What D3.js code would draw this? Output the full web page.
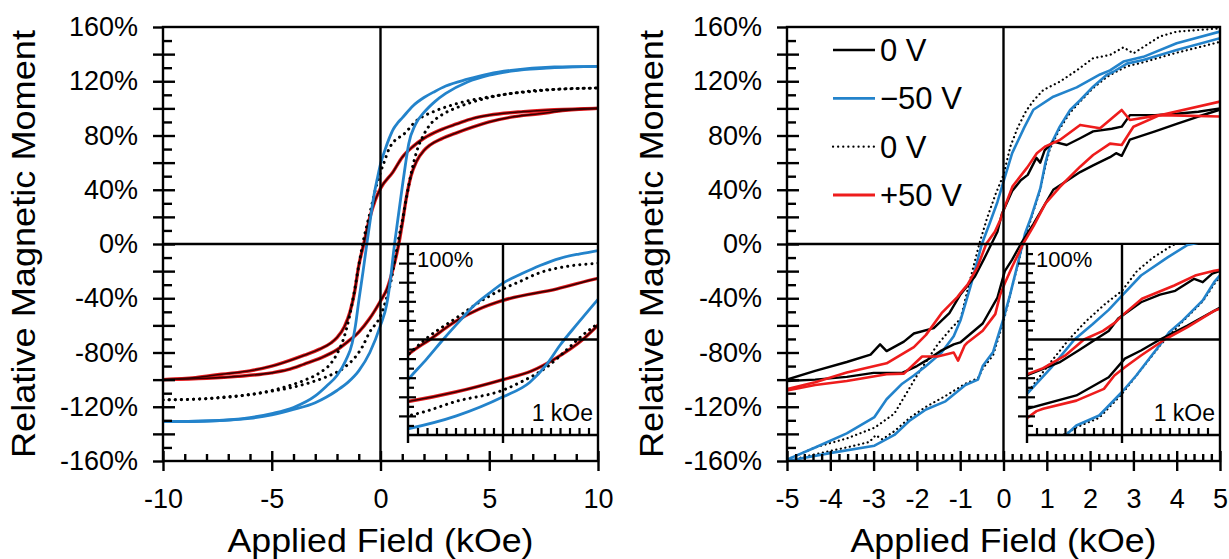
<!DOCTYPE html>
<html><head><meta charset="utf-8">
<script src="https://cdn.jsdelivr.net/npm/d3@7"></script>
<style>
body{margin:0;background:#fff}
svg{display:block}
text{font-family:"Liberation Sans",Arial,Helvetica,sans-serif;fill:#000}
</style>
</head><body>
<svg id="chart" width="1229" height="559"></svg>
<script>
// ---------------- DATA (field in kOe, moment in %) ----------------
const yTickValues = [-160,-120,-80,-40,0,40,80,120,160];
const leftXTicks = [-10,-5,0,5,10];
const rightXTicks = [-5,-4,-3,-2,-1,0,1,2,3,4,5];
const legendLabels = ["0 V","\u221250 V","0 V","+50 V"];
const insetTopLabel = "100%";
const insetFieldLabel = "1 kOe";

// Left panel (smooth loops) — descending (upper) and ascending (lower) branches
const leftBlueDesc = [[-10,-131],[-8,-130.5],[-6,-128],[-5,-125],[-4,-120.5],[-3,-112],[-2.5,-105],[-2,-97],[-1.6,-86],[-1.3,-73],[-1.15,-60],[-1,-42],[-0.8,-20],[-0.63,0],[-0.45,20],[-0.31,35],[-0.15,48],[0,59],[0.2,69],[0.39,77.5],[0.6,85],[0.8,89.5],[1,93],[1.5,102],[2,108],[2.5,112.5],[3,116.5],[4,121.5],[5,125.5],[6,128],[8,130.5],[10,131]];
const leftBlueAsc = [[-10,-131],[-8,-130.5],[-6,-128.5],[-5,-126],[-4,-122],[-3,-117],[-2.5,-113],[-2,-108],[-1.5,-102],[-1,-93.5],[-0.49,-80],[0,-60],[0.28,-45],[0.46,-26],[0.6,-6],[0.78,16],[1,42],[1.15,59],[1.3,74],[1.6,88],[2,97],[2.5,105],[3,111],[4,119.5],[5,124.5],[6,127.5],[8,130],[10,131]];
const leftDotDesc = [[-10,-115],[-8,-114],[-7,-112.5],[-6,-111],[-5,-108],[-4.2,-104.5],[-3.5,-100.5],[-2.8,-95],[-2.28,-88],[-2,-81],[-1.66,-68],[-1.45,-55],[-1.2,-35],[-1,-16],[-0.82,0],[-0.5,22],[-0.17,44],[0,53],[0.16,60],[0.39,70],[0.7,77],[1,80],[1.66,91],[2.5,98],[3.2,102],[4,105.5],[5,108.5],[6,111],[7,113],[8,114],[10,115]];
const leftDotAsc = [[-10,-115],[-8,-114],[-7,-113],[-6,-111],[-5,-108.5],[-4,-105.5],[-3.2,-102],[-2.5,-98],[-1.66,-91],[-1,-80],[-0.84,-76],[-0.5,-65],[0,-53],[0.2,-44],[0.46,-29],[0.7,-8],[0.82,3],[1,17],[1.2,35],[1.45,55],[1.66,68],[2,81],[2.28,88],[2.8,95],[3.5,100.5],[4.2,104.5],[5,108],[6,111],[7,112.5],[8,114],[10,115]];
const leftRedDesc = [[-10,-100],[-8.5,-98.5],[-7.3,-96],[-6,-93.5],[-5,-90],[-4.2,-86],[-3.5,-82],[-2.8,-77.5],[-2.28,-73],[-2,-69],[-1.66,-61],[-1.4,-50],[-1.2,-36],[-1,-16],[-0.77,0],[-0.5,19],[-0.25,32],[0,41],[0.57,53],[1,64],[1.5,72],[2,78],[2.74,84],[3.5,88.5],[4.27,92.7],[5,95],[6.57,97.6],[8,99],[10,100]];
const leftRedAsc = [[-10,-100],[-8,-99],[-6.57,-97.6],[-5,-95],[-4.27,-92.7],[-3.5,-88.5],[-2.74,-84],[-2,-78],[-1.5,-72],[-1,-65],[-0.5,-55],[0,-42],[0.3,-33],[0.55,-20],[0.84,0],[1,15],[1.2,35],[1.4,50],[1.66,61],[2,69],[2.28,73],[2.8,77.5],[3.5,82],[4.2,86],[5,90],[6,93.5],[7.3,96],[8.5,98.5],[10,100]];
const leftBlackDesc = leftRedDesc.map(d => [d[0], d[1]]);
const leftBlackAsc = leftRedAsc.map(d => [d[0], d[1]]);

// Right panel (measured, noisy loops)
const rightBlackDesc = [[-5,-100],[-4.35,-93.5],[-3.62,-87],[-3.07,-81.6],[-2.85,-74],[-2.7,-79],[-2.3,-72],[-2.07,-66],[-1.61,-62],[-1.25,-51],[-0.99,-37],[-0.66,-24],[-0.45,-11],[-0.28,0],[-0.14,9],[-0.04,22],[0.2,39],[0.4,47],[0.56,51],[0.76,63.5],[0.85,60],[0.95,69],[1.15,75.5],[1.46,73],[1.77,78],[2.07,83],[2.5,85],[2.73,86.5],[2.92,95],[3.5,95],[4,96],[4.5,97.5],[5,100]];
const rightBlackAsc = [[-5,-101],[-4.35,-100],[-3.62,-98],[-3,-95],[-2.34,-95],[-2,-90],[-1.79,-86],[-1.46,-79],[-1.15,-74],[-1,-72.6],[-0.48,-58.6],[-0.14,-39.5],[0.03,-20],[0.2,-11.5],[0.4,0],[0.69,14.7],[0.97,30],[1.15,40],[1.77,53],[2.07,58],[2.46,64],[2.6,67],[2.73,65],[2.92,77],[3.5,83],[4,88.5],[4.5,94],[5,99]];
const rightBlueDesc = [[-5,-159],[-4.35,-150],[-3.62,-139.6],[-2.98,-127.6],[-2.7,-114.5],[-2.34,-103],[-2.07,-97],[-1.79,-90],[-1.43,-80],[-1.15,-68],[-0.99,-56],[-0.75,-30],[-0.5,0],[-0.31,16],[-0.14,31],[0,46],[0.2,67],[0.48,86],[0.69,99],[1.15,108.6],[1.69,115.5],[2.23,125],[2.46,128],[2.77,134.5],[3.23,138],[4,148],[5,156.6]];
const rightBlueAsc = [[-5,-160],[-3.98,-154],[-2.98,-148.7],[-2.52,-140.8],[-2.16,-130],[-1.79,-122],[-1.34,-116],[-0.88,-104],[-0.59,-100],[-0.48,-90],[-0.24,-79.6],[0,-55],[0.15,-37.7],[0.42,-2.8],[0.5,8],[0.64,20],[0.85,41],[0.97,60],[1.07,71.8],[1.3,86.5],[1.54,98.8],[1.77,106],[2.07,116],[2.38,124.6],[2.54,127],[2.85,133],[3.23,135.7],[4,143],[5,151.7]];
const rightDotDesc = [[-5,-159],[-4.35,-150],[-3.62,-143.4],[-2.98,-135.5],[-2.52,-125],[-1.98,-96],[-1.52,-74],[-1.2,-62],[-0.99,-55],[-0.8,-30],[-0.56,0],[-0.38,19],[-0.18,37],[0,51],[0.16,72],[0.33,86],[0.52,98],[0.7,106],[0.92,113.6],[1.3,119.7],[1.69,128],[2.07,137],[2.46,139.4],[2.77,145],[3,140.6],[3.07,142],[3.61,153],[4,156.6],[5,159]];
const rightDotAsc = [[-5,-160],[-4.35,-155],[-3.62,-150],[-3.1,-146],[-2.95,-141],[-2.8,-144],[-2.52,-138],[-2.16,-128],[-1.79,-120],[-1.34,-112],[-0.88,-103],[-0.59,-99],[-0.48,-92],[-0.24,-82],[0,-57],[0.15,-38],[0.42,-4],[0.64,19],[0.85,40],[0.97,58],[1.07,70],[1.3,85],[1.54,97],[1.77,105],[2.07,115],[2.38,123],[2.54,126],[2.85,131],[3.23,134],[4,141],[5,149]];
const rightRedDesc = [[-5,-107],[-4.35,-102],[-3.62,-94.8],[-2.7,-88],[-2.07,-76],[-1.79,-67],[-1.43,-51],[-1.06,-39],[-0.99,-36],[-0.83,-30],[-0.6,-17],[-0.4,0],[-0.2,9],[-0.07,18],[0,25],[0.21,42.6],[0.55,56.5],[0.77,66.9],[0.97,72],[1.3,76.7],[1.77,87.8],[2.23,85.3],[2.73,98.8],[2.92,91.4],[3.61,95],[5,94]];
const rightRedAsc = [[-5,-108],[-4.35,-104],[-3.62,-101],[-2.7,-96],[-2.3,-95.6],[-1.88,-83],[-1.52,-83],[-1.15,-80],[-1.05,-86],[-0.9,-75],[-0.83,-72.6],[-0.48,-64],[-0.19,-51.7],[-0.08,-37.7],[0.03,-29],[0.2,-16.8],[0.45,0],[0.69,13],[0.97,30],[1.3,42],[1.77,57],[2.07,65.6],[2.46,74],[2.73,73],[3.0,86.5],[3.61,95],[5,105]];

// ---------------- STYLE ----------------
const BLUE = "#2383cb", RED = "#ee1c1c", BLACK = "#000", DARKRED = "#e3191c";
const svg = d3.select("#chart");
const defs = svg.append("defs");
const Y_TOP = 27, Y_BOT = 461;

function panel(cfg) {
  const x = d3.scaleLinear().domain(cfg.xDomain).range([cfg.left, cfg.right]);
  const y = d3.scaleLinear().domain([-160, 160]).range([Y_BOT, Y_TOP]);
  const g = svg.append("g");

  const clipMain = cfg.id + "-main";
  defs.append("clipPath").attr("id", clipMain).append("rect")
    .attr("x", cfg.left).attr("y", Y_TOP).attr("width", cfg.right - cfg.left).attr("height", Y_BOT - Y_TOP);

  const line = (xs, ys, curve) => d3.line().x(d => xs(d[0])).y(d => ys(d[1])).curve(curve);

  function drawSeries(container, xs, ys, series) {
    series.forEach(s => {
      [s.desc, s.asc].forEach(arr => {
        container.append("path").datum(arr)
          .attr("d", line(xs, ys, cfg.curve))
          .attr("fill", "none").attr("stroke", s.color).attr("stroke-width", s.width)
          .attr("stroke-dasharray", s.dash || null)
          .attr("stroke-linecap", s.dash ? "round" : "butt")
          .attr("stroke-linejoin", "round");
      });
    });
  }

  const mainG = g.append("g").attr("clip-path", `url(#${clipMain})`);
  drawSeries(mainG, x, y, cfg.series);

  // zero lines
  g.append("line").attr("x1", x(0)).attr("x2", x(0)).attr("y1", Y_TOP).attr("y2", Y_BOT).attr("stroke", "#000").attr("stroke-width", 2.4);
  g.append("line").attr("x1", cfg.left).attr("x2", cfg.right).attr("y1", y(0)).attr("y2", y(0)).attr("stroke", "#000").attr("stroke-width", 2.4);

  // ---- inset ----
  const iTop = y(0), iBot = 435;
  const xi = d3.scaleLinear().domain([-1, 1]).range([cfg.insetLeft, cfg.insetRight]);
  const yi = d3.scaleLinear().domain([-100, 100]).range([iBot, iTop]);
  g.append("rect").attr("x", cfg.insetLeft).attr("y", iTop + 1).attr("width", cfg.right - cfg.insetLeft).attr("height", iBot - iTop - 1).attr("fill", "#fff");
  const clipIn = cfg.id + "-inset";
  defs.append("clipPath").attr("id", clipIn).append("rect")
    .attr("x", cfg.insetLeft).attr("y", iTop).attr("width", cfg.right - cfg.insetLeft).attr("height", iBot - iTop);
  const inG = g.append("g").attr("clip-path", `url(#${clipIn})`);
  drawSeries(inG, xi, yi, cfg.series);

  // inset frame lines
  g.append("line").attr("x1", xi(-1)).attr("x2", xi(-1)).attr("y1", iTop).attr("y2", iBot + 8).attr("stroke", "#000").attr("stroke-width", 2.4);
  g.append("line").attr("x1", xi(0)).attr("x2", xi(0)).attr("y1", iTop).attr("y2", iBot + 8).attr("stroke", "#000").attr("stroke-width", 2.4);
  g.append("line").attr("x1", cfg.insetLeft).attr("x2", cfg.right).attr("y1", yi(0)).attr("y2", yi(0)).attr("stroke", "#000").attr("stroke-width", 2.4);
  g.append("line").attr("x1", cfg.insetLeft).attr("x2", cfg.right).attr("y1", iBot).attr("y2", iBot).attr("stroke", "#000").attr("stroke-width", 2.4);

  // inset ticks via axes
  const iy1 = g.append("g").attr("transform", `translate(${xi(-1)},0)`)
    .call(d3.axisLeft(yi).tickValues(d3.range(-80, 81, 20).filter(v => v !== 0)).tickSize(9).tickFormat(""));
  const iy2 = g.append("g").attr("transform", `translate(${xi(-1)},0)`)
    .call(d3.axisRight(yi).tickValues(d3.range(-80, 81, 20).filter(v => v !== 0)).tickSize(8).tickFormat(""));
  const iy3 = g.append("g").attr("transform", `translate(${xi(-1)},0)`)
    .call(d3.axisRight(yi).tickValues(d3.range(-90, 91, 20)).tickSize(6).tickFormat(""));
  const ix = g.append("g").attr("transform", `translate(0,${iBot})`)
    .call(d3.axisTop(xi).tickValues(d3.range(-9, 10).filter(v => v !== 0).map(v => v / 10)).tickSize(7).tickFormat(""));
  [iy1, iy2, iy3, ix].forEach(a => { a.select(".domain").remove(); a.selectAll("line").attr("stroke-width", 2.2); });

  g.append("text").attr("x", xi(-1) + 9).attr("y", iTop + 23).attr("font-size", 22).text(insetTopLabel);
  g.append("text").attr("x", cfg.right - 5).attr("y", iBot - 14).attr("text-anchor", "end").attr("font-size", 23).text(insetFieldLabel);

  // ---- frame ----
  g.append("rect").attr("x", cfg.left).attr("y", Y_TOP).attr("width", cfg.right - cfg.left).attr("height", Y_BOT - Y_TOP)
    .attr("fill", "none").attr("stroke", "#000").attr("stroke-width", 2.4);

  // ---- main axes ----
  const ya = g.append("g").attr("transform", `translate(${cfg.left},0)`)
    .call(d3.axisLeft(y).tickValues(d3.range(-160, 161, 20)).tickSize(10).tickPadding(15)
      .tickFormat(d => yTickValues.includes(d) ? d + "%" : ""));
  ya.selectAll("text").attr("font-size", 27).attr("font-family", '"Liberation Sans",Arial,sans-serif').attr("fill", "#000");
  const ya2 = g.append("g").attr("transform", `translate(${cfg.left},0)`)
    .call(d3.axisRight(y).tickValues(d3.range(-140, 141, 20)).tickSize(12).tickFormat(""));
  const ya3 = g.append("g").attr("transform", `translate(${cfg.left},0)`)
    .call(d3.axisRight(y).tickValues(d3.range(-150, 151, 20)).tickSize(9).tickFormat(""));

  const xa = g.append("g").attr("transform", `translate(0,${Y_BOT})`)
    .call(d3.axisBottom(x).tickValues(cfg.xTicks).tickSize(10).tickPadding(18).tickFormat(d => String(d)));
  xa.selectAll("text").attr("font-size", 27).attr("font-family", '"Liberation Sans",Arial,sans-serif').attr("fill", "#000");
  const xa2 = g.append("g").attr("transform", `translate(0,${Y_BOT})`)
    .call(d3.axisTop(x).tickValues(cfg.xTicks).tickSize(10).tickFormat(""));
  const xa3 = g.append("g").attr("transform", `translate(0,${Y_BOT})`)
    .call(d3.axisTop(x).tickValues(cfg.xMinor).tickSize(7).tickFormat(""));
  [ya, ya2, ya3, xa, xa2, xa3].forEach(a => { a.select(".domain").remove(); a.selectAll("line").attr("stroke", "#000").attr("stroke-width", 2.4); });

  // titles
  g.append("text").attr("x", x(0)).attr("y", 552).attr("text-anchor", "middle").attr("font-size", 34)
    .attr("textLength", 306).attr("lengthAdjust", "spacingAndGlyphs").text("Applied Field (kOe)");
  g.append("text").attr("transform", `translate(${cfg.titleX},${(Y_TOP + Y_BOT) / 2}) rotate(-90)`)
    .attr("text-anchor", "middle").attr("font-size", 33)
    .attr("textLength", 428).attr("lengthAdjust", "spacingAndGlyphs").text("Relative Magnetic Moment");
  return {x, y};
}

panel({
  id: "L", left: 163, right: 598, xDomain: [-10, 10], xTicks: leftXTicks,
  xMinor: d3.range(-9, 10).filter(v => v % 5 !== 0),
  insetLeft: 408, insetRight: 598, titleX: 35, curve: d3.curveMonotoneX,
  series: [
    {desc: leftRedDesc, asc: leftRedAsc, color: DARKRED, width: 3.4},
    {desc: leftBlackDesc, asc: leftBlackAsc, color: "#3a0000", width: 1.6},
    {desc: leftDotDesc, asc: leftDotAsc, color: BLACK, width: 3, dash: "0.1 6"},
    {desc: leftBlueDesc, asc: leftBlueAsc, color: BLUE, width: 2.8}
  ]
});

panel({
  id: "R", left: 787, right: 1220, xDomain: [-5, 5], xTicks: rightXTicks,
  xMinor: d3.range(-24, 25).filter(v => v % 5 !== 0).map(v => v / 5),
  insetLeft: 1027, insetRight: 1217, titleX: 663, curve: d3.curveLinear,
  series: [
    {desc: rightDotDesc, asc: rightDotAsc, color: BLACK, width: 2.2, dash: "0.1 4.5"},
    {desc: rightBlueDesc, asc: rightBlueAsc, color: BLUE, width: 2.6},
    {desc: rightBlackDesc, asc: rightBlackAsc, color: BLACK, width: 2.4},
    {desc: rightRedDesc, asc: rightRedAsc, color: RED, width: 2.6}
  ]
});

// legend
const legendStyles = [
  {color: BLACK, width: 2.4, dash: null},
  {color: BLUE, width: 2.6, dash: null},
  {color: BLACK, width: 2.2, dash: "0.1 5"},
  {color: RED, width: 2.8, dash: null}
];
const legendY = d3.scalePoint().domain(d3.range(legendLabels.length)).range([50, 195]);
const lg = svg.append("g");
legendLabels.forEach((lab, i) => {
  const st = legendStyles[i];
  lg.append("line").attr("x1", 833).attr("x2", 875).attr("y1", legendY(i)).attr("y2", legendY(i))
    .attr("stroke", st.color).attr("stroke-width", st.width).attr("stroke-dasharray", st.dash)
    .attr("stroke-linecap", st.dash ? "round" : "butt");
  lg.append("text").attr("x", 880).attr("y", legendY(i)).attr("dy", "0.36em").attr("font-size", 31).text(lab);
});
</script>
</body></html>
